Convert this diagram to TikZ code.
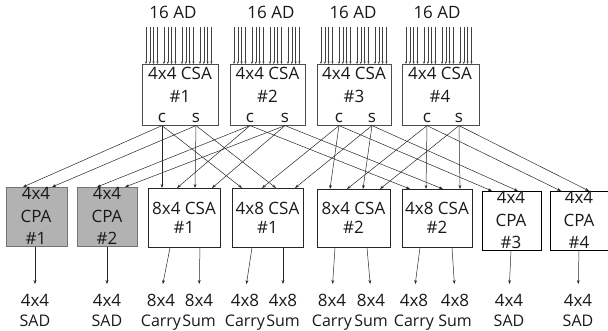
\documentclass[tikz,border=0pt]{standalone}
\usepackage{fontspec}
\setmainfont{Open Sans}
\usetikzlibrary{arrows.meta,calc}
\begin{document}
\begin{tikzpicture}[x=1pt,y=-1pt,
  every node/.style={inner sep=0pt},
  txt/.style={font=\fontsize{17}{20}\selectfont, anchor=base, text=black!90},
  smalltxt/.style={txt, font=\fontsize{16}{19}\selectfont},
  topbox/.style={draw=black!70, line width=0.6pt, anchor=north west, minimum height=61pt},
  csabox/.style={draw=black!85, line width=0.6pt, anchor=north west},
  cpagray/.style={draw=black!55, fill=black!30, line width=0.6pt, anchor=north west},
  cpabold/.style={draw=black, line width=1pt, anchor=north west},
  arr/.style={draw=black!85, line width=0.5pt, -{Stealth[length=4pt,width=2.8pt]}},
  inarr/.style={draw=black!75, line width=0.45pt, -{Stealth[length=2.6pt,width=2.2pt]}}]
\useasboundingbox (0,0) rectangle (608,331);

% top CSA boxes
\node[topbox, minimum width=76pt] (t1) at (142,64) {};
\node[topbox, minimum width=75pt] (t2) at (230,64) {};
\node[topbox, minimum width=74pt] (t3) at (317,64) {};
\node[topbox, minimum width=77pt] (t4) at (402,64) {};

\node[txt] (h1) at (173,19) {16 AD};
\node[txt] (h2) at (271,19) {16 AD};
\node[txt] (h3) at (353,19) {16 AD};
\node[txt] (h4) at (437,19) {16 AD};

\node[txt] (t1a) at (180,80) {4x4 CSA};
\node[txt] (t1b) at (180,103) {\#1};
\node[txt] (t1c) at (162,123) {c};
\node[txt] (t1s) at (196,123) {s};
\node[txt] (t2a) at (267.5,80) {4x4 CSA};
\node[txt] (t2b) at (267.5,103) {\#2};
\node[txt] (t2c) at (250,123) {c};
\node[txt] (t2s) at (285,123) {s};
\node[txt] (t3a) at (354,80) {4x4 CSA};
\node[txt] (t3b) at (354,103) {\#3};
\node[txt] (t3c) at (339,123) {c};
\node[txt] (t3s) at (372,123) {s};
\node[txt] (t4a) at (440,80) {4x4 CSA};
\node[txt] (t4b) at (440,103) {\#4};
\node[txt] (t4c) at (427,123) {c};
\node[txt] (t4s) at (459,123) {s};

% input arrows
\foreach \b in {t1,t2,t3,t4}{
  \foreach \g in {0,1,2,3}{
    \foreach \k in {0,1,2,3}{
      \draw[inarr] ($(\b.north west)+({4+18*\g+3.8*\k},-37)$) -- ($(\b.north west)+({4+18*\g+3.8*\k},0)$);
    }
  }
}

% bottom boxes
\node[cpagray, minimum width=61pt, minimum height=59pt] (p1) at (6,187) {};
\node[cpagray, minimum width=60pt, minimum height=59pt] (p2) at (77,187) {};
\node[csabox, minimum width=72pt, minimum height=59pt] (a1) at (148,188) {};
\node[csabox, minimum width=71pt, minimum height=59pt] (b1) at (232,188) {};
\node[csabox, minimum width=73pt, minimum height=58pt] (a2) at (317,189) {};
\node[csabox, minimum width=70pt, minimum height=58pt] (b2) at (402,189) {};
\node[cpabold, minimum width=59pt, minimum height=59pt] (p3) at (482,191) {};
\node[cpabold, minimum width=62pt, minimum height=59pt] (p4) at (550,191) {};

\node[txt] (p1a) at (36,200) {4x4};
\node[txt] (p1b) at (36,223) {CPA};
\node[txt] (p1c) at (36,245) {\#1};
\node[txt] (p2a) at (107,200) {4x4};
\node[txt] (p2b) at (107,223) {CPA};
\node[txt] (p2c) at (107,245) {\#2};
\node[txt] (p3a) at (511,204) {4x4};
\node[txt] (p3b) at (511,227) {CPA};
\node[txt] (p3c) at (511,249) {\#3};
\node[txt] (p4a) at (579,204) {4x4};
\node[txt] (p4b) at (579,227) {CPA};
\node[txt] (p4c) at (579,249) {\#4};

\node[txt] (a1a) at (184,215) {8x4 CSA};
\node[txt] (a1b) at (184,234) {\#1};
\node[txt] (b1a) at (267.5,215) {4x8 CSA};
\node[txt] (b1b) at (267.5,234) {\#1};
\node[txt] (a2a) at (353.5,215) {8x4 CSA};
\node[txt] (a2b) at (353.5,234) {\#2};
\node[txt] (b2a) at (437,215) {4x8 CSA};
\node[txt] (b2b) at (437,234) {\#2};

% connections top -> bottom
\foreach \b/\s/\d/\o in {
  t1/t1c/p1/17, t1/t1s/p1/46, t1/t1c/a1/14, t1/t1s/a1/47, t1/t1c/b1/10, t1/t1s/b1/44,
  t2/t2c/p2/20, t2/t2s/p2/48, t2/t2c/a1/29, t2/t2s/a1/64, t2/t2c/b2/8, t2/t2s/b2/41,
  t3/t3c/p3/10, t3/t3s/p3/36, t3/t3c/a2/13, t3/t3s/a2/46, t3/t3c/b1/30, t3/t3s/b1/63,
  t4/t4c/p4/11, t4/t4s/p4/39, t4/t4c/a2/30, t4/t4s/a2/63, t4/t4c/b2/24, t4/t4s/b2/58}{
  \draw[arr] (\s |- \b.south) -- ($(\d.north west)+(\o,0)$);
}

% output labels
\foreach \n/\x/\t/\u in {1/35/4x4/SAD, 2/107/4x4/SAD, 3/161/8x4/Carry, 4/199/8x4/Sum,
  5/245/4x8/Carry, 6/283/4x8/Sum, 7/332/8x4/Carry, 8/371/8x4/Sum,
  9/414/4x8/Carry, 10/455/4x8/Sum, 11/509/4x4/SAD, 12/578/4x4/SAD}{
  \node[txt] (o\n) at (\x,306) {\t};
  \node[smalltxt] (u\n) at (\x,326) {\u};
}

% output arrows
\foreach \b/\o/\l in {p1/29/o1, p2/30/o2, a1/22/o3, a1/52/o4, b1/20/o5, b1/51/o6,
  a2/18/o7, a2/50/o8, b2/18/o9, b2/50/o10, p3/29/o11, p4/29/o12}{
  \draw[arr, shorten >=9.5pt] ($(\b.south west)+(\o,0)$) -- (\l.north);
}
\end{tikzpicture}
\end{document}
